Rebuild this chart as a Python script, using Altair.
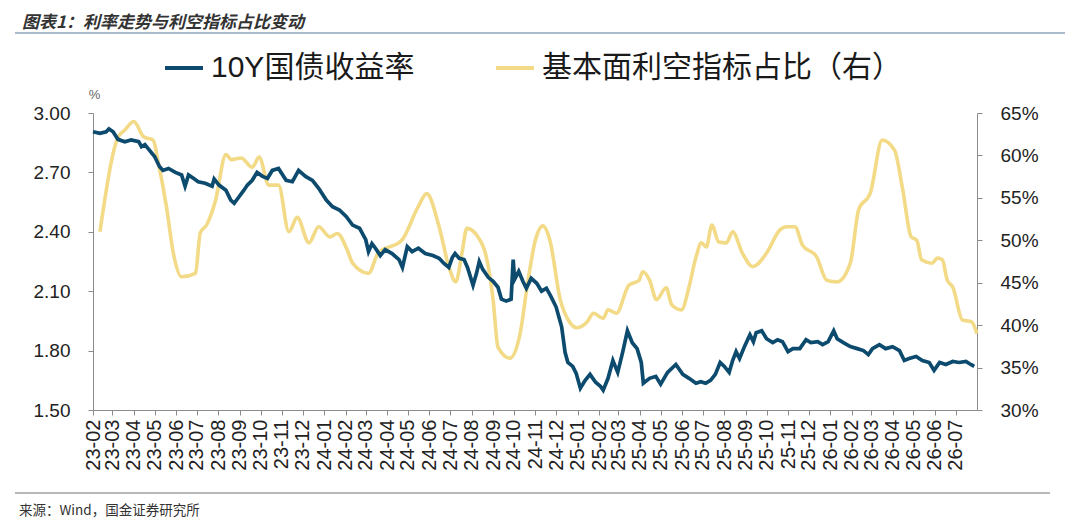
import altair as alt
import pandas as pd

title_text = "图表1：利率走势与利空指标占比变动"
source_text = "来源：Wind，国金证券研究所"
series_names = ["10Y国债收益率", "基本面利空指标占比（右）"]
series_colors = ["#0C4A6E", "#F2DA87"]

tick_labels = [
    "23-02", "23-03", "23-04", "23-05", "23-06", "23-07", "23-08", "23-09", "23-10", "23-11", "23-12",
    "24-01", "24-02", "24-03", "24-04", "24-05", "24-06", "24-07", "24-08", "24-09", "24-10", "24-11", "24-12",
    "25-01", "25-02", "25-03", "25-04", "25-05", "25-06", "25-07", "25-08", "25-09", "25-10", "25-11", "25-12",
    "26-01", "26-02", "26-03", "26-04", "26-05", "26-06", "26-07",
]
x_end_label = "26-08"
left_ticks = [1.50, 1.80, 2.10, 2.40, 2.70, 3.00]
right_ticks = [30, 35, 40, 45, 50, 55, 60, 65]

blue_dates = [
    "2023-02-01", "2023-02-11", "2023-02-20", "2023-02-24", "2023-03-02", "2023-03-09", "2023-03-19",
    "2023-03-28", "2023-04-08", "2023-04-12", "2023-04-17", "2023-04-24", "2023-05-01", "2023-05-08",
    "2023-05-13", "2023-05-21", "2023-05-31", "2023-06-09", "2023-06-14", "2023-06-19", "2023-06-26",
    "2023-07-03", "2023-07-13", "2023-07-23", "2023-07-26", "2023-08-02", "2023-08-12", "2023-08-19",
    "2023-08-24", "2023-08-31", "2023-09-07", "2023-09-12", "2023-09-19", "2023-09-26", "2023-10-04",
    "2023-10-11", "2023-10-18", "2023-10-27", "2023-11-07", "2023-11-16", "2023-11-25", "2023-12-05",
    "2023-12-15", "2023-12-24", "2024-01-04", "2024-01-13", "2024-01-23", "2024-02-02", "2024-02-11",
    "2024-02-21", "2024-03-01", "2024-03-05", "2024-03-10", "2024-03-15", "2024-03-22", "2024-03-29",
    "2024-04-08", "2024-04-18", "2024-04-23", "2024-04-30", "2024-05-07", "2024-05-16", "2024-05-26",
    "2024-06-06", "2024-06-15", "2024-06-22", "2024-06-29", "2024-07-04", "2024-07-08", "2024-07-14",
    "2024-07-21", "2024-07-26", "2024-08-03", "2024-08-08", "2024-08-12", "2024-08-17", "2024-08-25",
    "2024-09-01", "2024-09-08", "2024-09-13", "2024-09-20", "2024-09-27", "2024-09-30", "2024-10-02",
    "2024-10-08", "2024-10-14", "2024-10-19", "2024-10-26", "2024-11-03", "2024-11-10", "2024-11-17",
    "2024-11-24", "2024-12-01", "2024-12-09", "2024-12-14", "2024-12-18", "2024-12-25", "2024-12-30",
    "2025-01-05", "2025-01-12", "2025-01-19", "2025-01-27", "2025-02-03", "2025-02-07", "2025-02-14",
    "2025-02-21", "2025-02-28", "2025-03-07", "2025-03-14", "2025-03-21", "2025-03-28", "2025-04-03",
    "2025-04-06", "2025-04-15", "2025-04-24", "2025-05-01", "2025-05-11", "2025-05-23", "2025-06-02",
    "2025-06-11", "2025-06-21", "2025-06-28", "2025-07-05", "2025-07-12", "2025-07-19", "2025-07-26",
    "2025-08-01", "2025-08-08", "2025-08-13", "2025-08-18", "2025-08-23", "2025-08-30", "2025-09-07",
    "2025-09-12", "2025-09-16", "2025-09-24", "2025-10-01", "2025-10-10", "2025-10-17", "2025-10-24",
    "2025-11-01", "2025-11-08", "2025-11-18", "2025-11-27", "2025-12-04", "2025-12-14", "2025-12-21",
    "2025-12-29", "2026-01-06", "2026-01-11", "2026-01-20", "2026-01-30", "2026-02-09", "2026-02-18",
    "2026-02-25", "2026-03-03", "2026-03-13", "2026-03-22", "2026-04-01", "2026-04-11", "2026-04-18",
    "2026-04-25", "2026-05-05", "2026-05-14", "2026-05-24", "2026-05-31", "2026-06-08", "2026-06-17",
    "2026-06-27", "2026-07-06", "2026-07-16", "2026-07-23", "2026-07-28",
]
blue_vals = [
    2.905, 2.897, 2.905, 2.92, 2.905, 2.867, 2.855,
    2.864, 2.855, 2.83, 2.84, 2.81, 2.78, 2.73,
    2.71, 2.72, 2.70, 2.687, 2.63, 2.687, 2.67,
    2.653, 2.645, 2.63, 2.667, 2.636, 2.61, 2.56,
    2.544, 2.577, 2.61, 2.636, 2.66, 2.70, 2.68,
    2.67, 2.71, 2.72, 2.66, 2.653, 2.71, 2.68,
    2.66, 2.62, 2.56, 2.527, 2.51, 2.476, 2.434,
    2.418, 2.36, 2.30, 2.34, 2.317, 2.28, 2.31,
    2.29, 2.26, 2.22, 2.325, 2.30, 2.317, 2.29,
    2.28, 2.266, 2.24, 2.22, 2.27, 2.29, 2.266,
    2.26, 2.22, 2.13, 2.19, 2.25, 2.21, 2.17,
    2.15, 2.12, 2.06, 2.05, 2.06, 2.26, 2.16,
    2.20, 2.15, 2.115, 2.165, 2.14, 2.10, 2.115,
    2.07, 2.02, 1.92, 1.79, 1.74, 1.72, 1.685,
    1.61, 1.65, 1.68, 1.64, 1.62, 1.60, 1.66,
    1.75, 1.69, 1.79, 1.90, 1.84, 1.81, 1.74,
    1.635, 1.66, 1.67, 1.63, 1.69, 1.73, 1.68,
    1.66, 1.635, 1.643, 1.635, 1.65, 1.68, 1.74,
    1.72, 1.69, 1.75, 1.795, 1.76, 1.82, 1.88,
    1.845, 1.89, 1.90, 1.86, 1.84, 1.855, 1.845,
    1.795, 1.81, 1.81, 1.855, 1.84, 1.845, 1.83,
    1.845, 1.90, 1.86, 1.84, 1.82, 1.81, 1.80,
    1.78, 1.81, 1.83, 1.81, 1.82, 1.80, 1.75,
    1.76, 1.77, 1.75, 1.74, 1.70, 1.74, 1.73,
    1.745, 1.74, 1.745, 1.73, 1.72,
]

yellow_dates = [
    "2023-02-11", "2023-03-09", "2023-03-19", "2023-04-01", "2023-04-15", "2023-04-29", "2023-05-06",
    "2023-05-18", "2023-05-28", "2023-06-09", "2023-06-29", "2023-07-06", "2023-07-15", "2023-07-28",
    "2023-08-12", "2023-08-20", "2023-09-03", "2023-09-19", "2023-09-29", "2023-10-13", "2023-10-27",
    "2023-11-11", "2023-11-23", "2023-12-10", "2023-12-24", "2024-01-09", "2024-01-20", "2024-02-03",
    "2024-02-11", "2024-03-05", "2024-03-19", "2024-04-22", "2024-05-16", "2024-05-28", "2024-06-15",
    "2024-06-29", "2024-07-09", "2024-07-18", "2024-07-25", "2024-08-10", "2024-08-22", "2024-09-01",
    "2024-09-08", "2024-09-25", "2024-10-10", "2024-10-20", "2024-11-01", "2024-11-12", "2024-11-22",
    "2024-12-07", "2024-12-21", "2024-12-31", "2025-01-15", "2025-01-24", "2025-02-07", "2025-02-14",
    "2025-02-26", "2025-03-16", "2025-03-31", "2025-04-05", "2025-04-15", "2025-04-25", "2025-05-09",
    "2025-05-17", "2025-05-31", "2025-06-11", "2025-06-21", "2025-06-29", "2025-07-06", "2025-07-14",
    "2025-07-24", "2025-08-04", "2025-08-13", "2025-08-27", "2025-09-11", "2025-10-01", "2025-10-20",
    "2025-10-30", "2025-11-11", "2025-11-22", "2025-12-12", "2025-12-27", "2026-01-11", "2026-01-30",
    "2026-02-11", "2026-02-28", "2026-03-17", "2026-04-04", "2026-04-15", "2026-04-28", "2026-05-06",
    "2026-05-13", "2026-05-28", "2026-06-05", "2026-06-12", "2026-06-19", "2026-06-27", "2026-07-11",
    "2026-07-24", "2026-08-01",
]
yellow_vals = [
    51.0, 62.1, 63.0, 64.0, 62.2, 61.8, 59.3,
    54.0, 48.5, 45.7, 46.1, 50.9, 51.8, 54.7,
    60.1, 59.5, 59.7, 58.6, 59.8, 56.5, 56.5,
    51.0, 52.7, 49.7, 51.6, 50.4, 50.8, 48.9,
    47.3, 46.1, 48.5, 50.0, 54.0, 55.5, 51.6,
    46.9, 45.1, 48.5, 51.4, 50.4, 48.1, 43.0,
    37.4, 36.1, 39.0, 44.5, 50.0, 51.7, 50.0,
    43.0, 40.3, 39.7, 40.4, 41.4, 40.8, 41.8,
    41.4, 44.7, 45.3, 46.3, 45.3, 43.0, 44.4,
    42.4, 41.8, 44.5, 48.0, 49.7, 49.2, 51.8,
    49.8, 49.7, 51.0, 48.5, 46.9, 48.5, 51.2,
    51.6, 51.6, 49.4, 48.1, 45.3, 45.1, 47.3,
    53.6, 55.6, 61.8, 60.6, 56.3, 50.4, 50.0,
    47.7, 47.3, 47.9, 47.7, 45.3, 44.5, 40.6,
    40.4, 39.0,
]


def label_to_dt(s):
    return alt.DateTime(year=2000 + int(s[:2]), month=int(s[3:]), date=1)


bdf = pd.DataFrame({"date": pd.to_datetime(blue_dates), "val": blue_vals, "series": series_names[0]})
ydf = pd.DataFrame({"date": pd.to_datetime(yellow_dates), "val": yellow_vals, "series": series_names[1]})

axis_gray = "#8c8c8c"
label_font = "Liberation Sans"

x_enc = alt.X(
    "date:T",
    title=None,
    scale=alt.Scale(domain=[label_to_dt(tick_labels[0]), label_to_dt(x_end_label)]),
    axis=alt.Axis(
        values=[label_to_dt(s) for s in tick_labels],
        format="%y-%m",
        labelAngle=270,
        labelFont=label_font,
        labelFontSize=20,
        labelColor="#222222",
        labelPadding=4,
        labelFlush=False,
        labelOverlap=False,
        tickSize=5,
        tickColor=axis_gray,
        domainColor=axis_gray,
        grid=False,
    ),
)

color_enc = alt.Color(
    "series:N",
    scale=alt.Scale(domain=series_names, range=series_colors),
    legend=alt.Legend(
        orient="none",
        legendX=70,
        legendY=-66,
        direction="horizontal",
        title=None,
        symbolType="stroke",
        symbolSize=1444,
        symbolStrokeWidth=4,
        labelFont="Liberation Sans, Noto Sans CJK SC",
        labelFontSize=30,
        labelColor="#1a1a1a",
        labelLimit=800,
        labelOffset=6,
        columnPadding=73,
        padding=0,
    ),
)

yellow = alt.Chart(ydf).mark_line(strokeWidth=3.6, interpolate="monotone").encode(
    x=x_enc,
    y=alt.Y(
        "val:Q",
        title=None,
        scale=alt.Scale(domain=[right_ticks[0], right_ticks[-1]]),
        axis=alt.Axis(
            orient="right",
            values=right_ticks,
            labelExpr="datum.value + '%'",
            labelFont=label_font,
            labelFontSize=19,
            labelColor="#222222",
            labelPadding=18,
            tickSize=5,
            tickColor=axis_gray,
            domainColor=axis_gray,
            grid=False,
        ),
    ),
    color=color_enc,
)

blue = alt.Chart(bdf).mark_line(strokeWidth=3.7).encode(
    x=x_enc,
    y=alt.Y(
        "val:Q",
        title="%",
        scale=alt.Scale(domain=[left_ticks[0], left_ticks[-1]]),
        axis=alt.Axis(
            orient="left",
            values=left_ticks,
            format=".2f",
            labelFont=label_font,
            labelFontSize=19,
            labelColor="#222222",
            labelPadding=18,
            tickSize=5,
            tickColor=axis_gray,
            domainColor=axis_gray,
            grid=False,
            titleAngle=0,
            titleX=1,
            titleY=-15,
            titleAlign="center",
            titleBaseline="alphabetic",
            titleFont=label_font,
            titleFontSize=13,
            titleFontWeight="normal",
            titleColor="#666666",
        ),
    ),
    color=color_enc,
)

title_mark = alt.Chart(pd.DataFrame({"t": [title_text]})).mark_text(
    align="left", baseline="alphabetic", font="Noto Sans CJK SC", fontSize=17,
    fontWeight="bold", fontStyle="italic", color="#333333",
).encode(x=alt.value(-71), y=alt.value(-85), text="t:N")

title_rule = alt.Chart(pd.DataFrame({"k": [0]})).mark_rule(color="#8CA5BC", strokeWidth=1.5).encode(
    x=alt.value(-78), x2=alt.value(972), y=alt.value(-80)
)

source_rule = alt.Chart(pd.DataFrame({"k": [0]})).mark_rule(color="#A0A0A0", strokeWidth=1.5).encode(
    x=alt.value(-78), x2=alt.value(957), y=alt.value(380)
)

source_mark = alt.Chart(pd.DataFrame({"t": [source_text]})).mark_text(
    align="left", baseline="alphabetic", font="Noto Sans CJK SC", fontSize=13.5, color="#333333",
).encode(x=alt.value(-74), y=alt.value(402), text="t:N")

chart = (
    alt.layer(yellow, blue, title_mark, title_rule, source_rule, source_mark)
    .resolve_scale(y="independent")
    .properties(
        width=884,
        height=297,
        autosize=alt.AutoSizeParams(type="none"),
        padding={"left": 85, "top": 105, "right": 95, "bottom": 113},
        background="white",
    )
    .configure_view(stroke=None)
)

chart.save("out.html", embed_options={"renderer": "svg", "actions": False})
